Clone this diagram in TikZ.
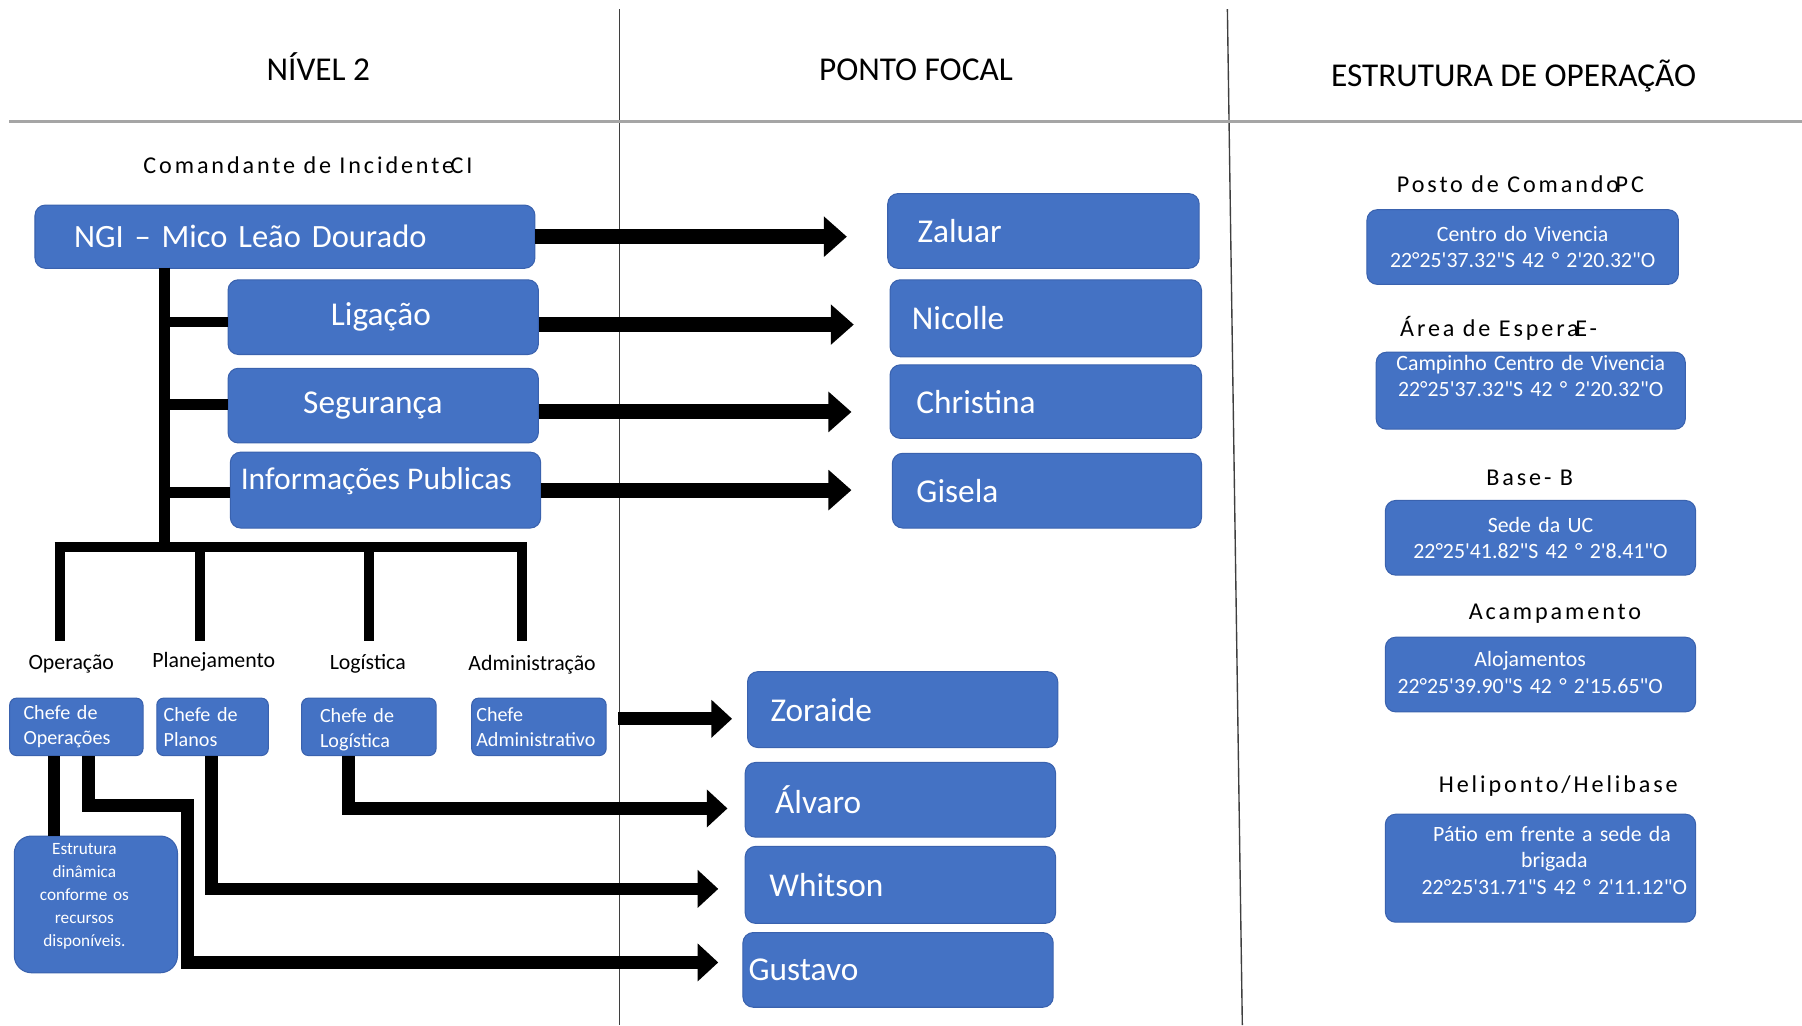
\documentclass[tikz,border=0pt]{standalone}
\usepackage{fontspec}
\setmainfont{Carlito}[Ligatures=TeXOff]
\newfontfamily\spcfont{Carlito}[LetterSpace=12,Ligatures=TeXOff]
\usetikzlibrary{arrows.meta,calc}
\definecolor{boxblue}{HTML}{4472C4}
\definecolor{boxedge}{HTML}{3A62AE}
\definecolor{rulegray}{HTML}{A5A5A5}
\definecolor{sepgray}{HTML}{3F3F3F}
\begin{document}
\begin{tikzpicture}[x=1pt,y=-1pt,
  bx/.style={draw=boxedge, fill=boxblue, line width=0.9pt, rounded corners=9pt, text=white, inner ysep=0pt, anchor=north west},
  nm/.style={bx, align=left, font=\fontsize{29}{34}\selectfont},
  ch/.style={bx, align=left, rounded corners=6pt, font=\fontsize{17.5}{22}\selectfont, minimum height=50pt},
  rb/.style={bx, align=center, inner xsep=0pt, font=\fontsize{19}{23}\selectfont},
  hdr/.style={anchor=base, font=\fontsize{29}{34}\selectfont, inner sep=0pt},
  lbl/.style={font=\spcfont\fontsize{21}{25}\selectfont, inner sep=0pt},
  sub/.style={font=\fontsize{19}{23}\selectfont, inner sep=0pt},
  arr/.style={line width=13pt, -{Triangle[length=20pt,width=34pt]}},
  arrl/.style={line width=11pt, -{Triangle[length=18pt,width=32pt]}},
  tree/.style={line width=9pt},
  con/.style={line width=11pt},
  sep/.style={draw=sepgray, line width=1.2pt},
  hrule/.style={draw=rulegray, line width=2.5pt}]
\useasboundingbox (0,0) rectangle (1568,892);

% frame lines
\draw[sep] (539,8) -- (539,892);
\draw[sep] (1068,8) -- (1081,892);
\draw[hrule] (8,106) -- (1568,106);

% headers
\node[hdr] (h1) at (277,70) {NÍVEL 2};
\node[hdr] (h2) at (797,70) {PONTO FOCAL};
\node[hdr] (h3) at (1317,75) {ESTRUTURA DE OPERAÇÃO};

% left column
\node[lbl] (ci) at (268,144) {Comandante de Incidente\kern-3pt CI};
\node[nm, minimum width=435pt, minimum height=55pt, inner xsep=34pt, text width=367pt, font=\fontsize{28.3}{34}\selectfont] (ngi) at (30,178) {NGI – Mico Leão Dourado};
\node[bx, align=center, font=\fontsize{29}{34}\selectfont, minimum width=270pt, minimum height=65pt] (lig) at (198,243) {Ligação\hspace*{4pt}\null};
\node[bx, align=center, font=\fontsize{29}{34}\selectfont, minimum width=270pt, minimum height=65pt] (seg) at (198,320) {Segurança\hspace*{18pt}\null};
\node[bx, align=center, font=\fontsize{27.5}{32}\selectfont, minimum width=270pt, minimum height=66pt] (inf) at (200,393) {\raisebox{8pt}[\height][\depth]{Informações Publicas}\hspace*{16pt}\null};

% focal points
\node[nm, minimum width=271pt, minimum height=65pt, inner xsep=26pt, text width=219pt] (zal) at (772,168) {Zaluar};
\node[nm, minimum width=271pt, minimum height=67pt, inner xsep=19pt, text width=233pt] (nic) at (774,243) {Nicolle};
\node[nm, minimum width=271pt, minimum height=64pt, inner xsep=23pt, text width=225pt] (chr) at (774,317) {Christina};
\node[nm, minimum width=269pt, minimum height=65pt, inner xsep=21pt, text width=227pt] (gis) at (776,394) {Gisela};
\node[nm, minimum width=270pt, minimum height=66pt, inner xsep=20pt, text width=230pt] (zor) at (650,584) {Zoraide};
\node[nm, minimum width=270pt, minimum height=65pt, inner xsep=26pt, text width=218pt] (alv) at (648,663) {Álvaro};
\node[nm, minimum width=270pt, minimum height=67pt, inner xsep=21pt, text width=228pt] (whi) at (648,736) {Whitson};
\node[nm, minimum width=270pt, minimum height=65pt, inner xsep=5pt, text width=260pt] (gus) at (646,811) {Gustavo};

% arrows to focal points
\draw[arr] (ngi.east) -- ++(271,0);
\draw[arr] ([yshift=-6.5pt]lig.east) -- ++(274,0);
\draw[arr] ([yshift=-5.5pt]seg.east) -- ++(272,0);
\draw[arr] (inf.east) -- ++(270,0);

% tree
\coordinate (tb) at (143,476);
\draw[tree] ([yshift=1pt]ngi.south -| tb) -- (tb);
\draw[tree] ([yshift=-4pt]lig.west) -- ([yshift=-4pt]lig.west -| tb);
\draw[tree] ([yshift=1pt]seg.west) -- ([yshift=1pt]seg.west -| tb);
\draw[tree] ([yshift=-2pt]inf.west) -- ([yshift=-2pt]inf.west -| tb);
\coordinate (bl) at (47.5,476);
\coordinate (br) at (458.5,476);
\draw[tree] (bl) -- (br);
\coordinate (d1) at (52,558);
\coordinate (d2) at (174,558);
\coordinate (d3) at (321,558);
\coordinate (d4) at (454,558);
\foreach \d in {d1,d2,d3,d4} \draw[tree] (\d |- tb) -- (\d);

% section labels
\node[sub] (lop) at (62,578) {Operação};
\node[sub] (lpl) at (186,576) {Planejamento};
\node[sub] (llo) at (320,578) {Logística};
\node[sub] (lad) at (463,578) {Administração};

% chiefs
\node[ch, minimum width=116pt, inner xsep=12pt, text width=92pt] (cop) at (8,607) {Chefe de\\Operações};
\node[ch, minimum width=97pt, inner xsep=6pt, text width=85pt] (cpl) at (136,607) {Chefe de\\Planos};
\node[ch, minimum width=117pt, inner xsep=16pt, text width=85pt] (clo) at (262,607) {\raisebox{-3pt}[\height][\depth]{\begin{tabular}{@{}l@{}}Chefe de\\Logística\end{tabular}}};
\node[ch, minimum width=117pt, inner xsep=4pt, text width=109pt] (cad) at (410,607) {Chefe\\Administrativo};
\node[bx, rounded corners=15pt, align=center, inner xsep=0pt, text width=142pt, minimum height=119pt, font=\fontsize{15}{20}\selectfont] (est) at (12,727) {\raisebox{7pt}[\height][\depth]{\begin{tabular}{@{}c@{}}Estrutura\\dinâmica\\conforme os\\recursos\\disponíveis.\end{tabular}}\hspace*{20pt}\null};

% lower connectors
\coordinate (a1) at ([xshift=39pt]cop.south west);
\coordinate (a2) at ([xshift=69pt]cop.south west);
\coordinate (a3) at ([xshift=48pt]cpl.south west);
\coordinate (a4) at ([xshift=41pt]clo.south west);
\coordinate (k1) at (163,701);
\draw[con] (a1) -- (a1 |- est.north);
\draw[arrl] (a2) |- (k1) |- ($(gus.west)+(-21,-6.5)$);
\draw[arrl] (a3) |- ($(whi.west)+(-23,3.5)$);
\draw[arrl] (a4) |- ($(alv.west)+(-15,7.5)$);
\draw[arrl] ($(cad.east)+(10,-7)$) -- ($(zor.west)+(-13,8)$);

% operation structure
\node[lbl] (pc) at (1323,160) {Posto de Comando\kern-3pt PC};
\node[rb, minimum width=271pt, minimum height=65pt, text width=271pt] (rb1) at (1189,182) {Centro do Vivencia\\22°25'37.32"S 42 ° 2'20.32"O};
\node[lbl] (ae) at (1304,286) {Área de Espera\kern-3pt E-};
\node[rb, minimum width=269pt, minimum height=67pt, text width=269pt] (rb2) at (1197,306) {\raisebox{11pt}[\height][\depth]{\begin{tabular}{@{}c@{}}Campinho Centro de Vivencia\\22°25'37.32"S 42 ° 2'20.32"O\end{tabular}}};
\node[lbl] (bs) at (1331,416) {Base- B};
\node[rb, minimum width=270pt, minimum height=65pt, text width=270pt] (rb3) at (1205,435) {Sede da UC\\22°25'41.82"S 42 ° 2'8.41"O};
\node[lbl] (ac) at (1353,534) {Acampamento};
\node[rb, minimum width=270pt, minimum height=65pt, text width=270pt] (rb4) at (1205,554) {\begin{tabular}{@{}c@{}}Alojamentos\\22°25'39.90"S 42 ° 2'15.65"O\end{tabular}\hspace*{18pt}\null};
\node[lbl] (hh) at (1356,684) {Heliponto/Helibase};
\node[rb, minimum width=270pt, minimum height=94pt, text width=270pt] (rb5) at (1205,708) {\raisebox{5pt}[\height][\depth]{\begin{tabular}{@{}c@{}}\hspace*{20pt}Pátio em frente a sede da\\\hspace*{24pt}brigada\\\hspace*{24pt}22°25'31.71"S 42 ° 2'11.12"O\end{tabular}}};
\end{tikzpicture}
\end{document}
